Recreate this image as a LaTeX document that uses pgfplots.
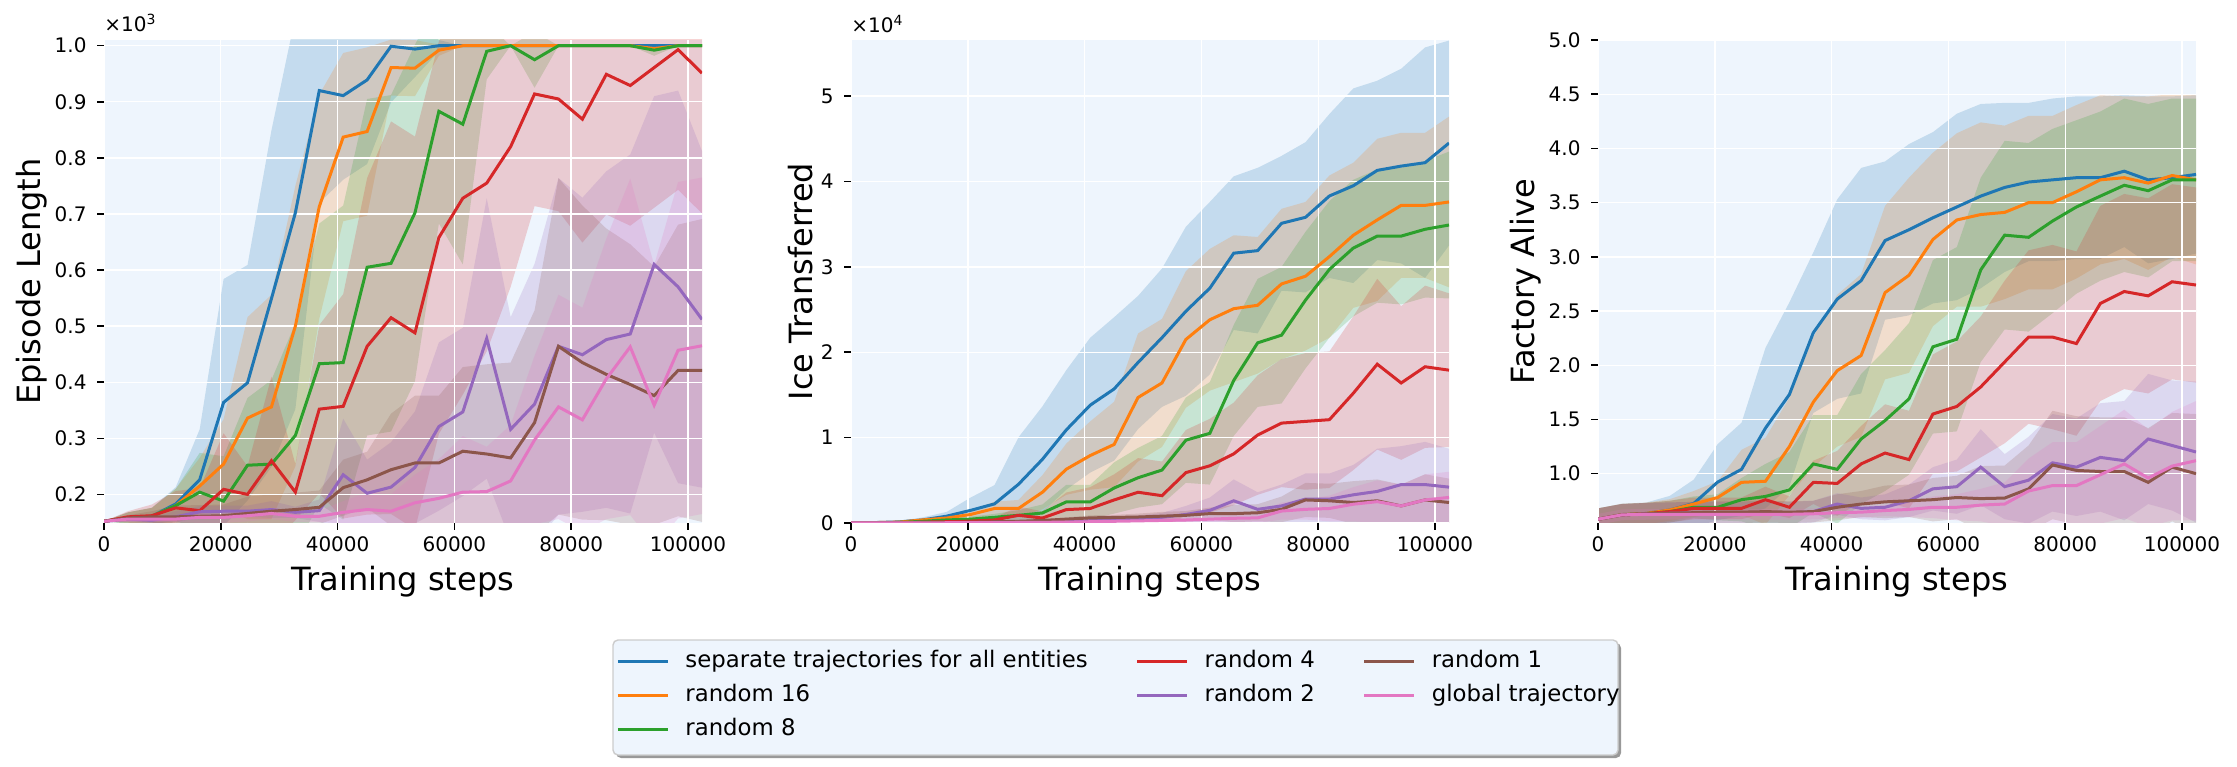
\documentclass[border=0pt]{standalone}
\usepackage{fontspec}
\setmainfont{DejaVu Sans}
\usepackage{pgfplots}
\usepackage{pgfplotstable}
\pgfplotsset{compat=1.18}
\usepgfplotslibrary{fillbetween}

\definecolor{cB}{RGB}{31,119,180}
\definecolor{cO}{RGB}{255,127,14}
\definecolor{cG}{RGB}{44,160,44}
\definecolor{cR}{RGB}{214,39,40}
\definecolor{cP}{RGB}{148,103,189}
\definecolor{cN}{RGB}{140,86,75}
\definecolor{cK}{RGB}{227,119,194}
\definecolor{bgc}{RGB}{238,245,253}

\pgfplotsset{
  layers/mylayers/.define layer set={axis background,pre main,axis grid,axis ticks,axis lines,axis tick labels,main,axis descriptions,axis foreground}{
    grid style={/pgfplots/on layer=axis grid},
    tick style={/pgfplots/on layer=axis ticks},
    axis line style={/pgfplots/on layer=axis lines},
    label style={/pgfplots/on layer=axis descriptions},
    legend style={/pgfplots/on layer=axis descriptions},
    title style={/pgfplots/on layer=axis descriptions},
    colorbar style={/pgfplots/on layer=axis descriptions},
    ticklabel style={/pgfplots/on layer=axis tick labels},
    axis background@ style={/pgfplots/on layer=axis background},
    3d box foreground style={/pgfplots/on layer=axis foreground},
  },
  /pgf/number format/assume math mode=true,
  panel/.style={
    set layers=mylayers,
    scale only axis, width=299pt, height=241.5pt,
    anchor=south west,
    xmin=0, xmax=102400,
    axis background/.style={fill=bgc},
    axis line style={draw=none},
    tick align=outside, major tick length=3.4pt,
    tick style={black, line width=0.8pt},
    xtick pos=left, ytick pos=left,
    grid=major, grid style={white, line width=0.7pt},
    xtick={0,20000,40000,60000,80000,100000},
    scaled x ticks=false, scaled y ticks=false,
    xticklabel style={/pgf/number format/fixed, /pgf/number format/1000 sep={}},
    yticklabel style={xshift=-1.8pt},
    ticklabel style={font=\fontsize{10}{12}\selectfont},
    label style={font=\fontsize{16}{19}\selectfont},
    ylabel shift=-3pt,
    xlabel={Training steps},
  },
}

\newcommand{\bandplot}[3]{%
  \addplot[draw=none, name path=#3h, forget plot] table[x=x,y=h]{#1};
  \addplot[draw=none, name path=#3l, forget plot] table[x=x,y=l]{#1};
  \addplot[fill=#2, fill opacity=0.2, draw=none, forget plot] fill between[of=#3h and #3l];
}
\newcommand{\meanplot}[2]{\addplot[#2, line width=1.5pt, forget plot] table[x=x,y=m]{#1};}

% ---------------- Panel A: Episode Length (x10^3)
\pgfplotstableread{
x m l h
0 .152 .152 .152
4096 .158 .148 .168
8192 .161 .146 .176
12288 .183 .153 .213
16384 .226 .136 .316
20480 .364 .144 .584
24576 .399 .189 .609
28672 .549 .249 .849
32768 .702 .352 1.052
36864 .920 .72 1.12
40960 .911 .761 1.061
45056 .939 .789 1.089
49152 .999 .899 1.099
53248 .994 .944 1.044
57344 1.0 .99 1.01
61440 1.0 1.0 1.0
65536 1.0 1.0 1.0
69632 1.0 1.0 1.0
73728 1.0 1.0 1.0
77824 1.0 1.0 1.0
81920 1.0 1.0 1.0
86016 1.0 1.0 1.0
90112 1.0 1.0 1.0
94208 1.0 1.0 1.0
98304 1.0 1.0 1.0
102400 1.0 1.0 1.0
}\Ab
\pgfplotstableread{
x m l h
0 .152 .152 .152
4096 .158 .148 .168
8192 .161 .146 .176
12288 .18 .15 .21
16384 .215 .165 .265
20480 .254 .174 .334
24576 .336 .156 .516
28672 .356 .156 .556
32768 .50 .25 .75
36864 .713 .513 .913
40960 .837 .687 .987
45056 .847 .697 .997
49152 .961 .911 1.011
53248 .96 .91 1.01
57344 .992 .982 1.002
61440 1.0 1.0 1.0
65536 1.0 1.0 1.0
69632 1.0 1.0 1.0
73728 1.0 1.0 1.0
77824 1.0 1.0 1.0
81920 1.0 1.0 1.0
86016 1.0 1.0 1.0
90112 1.0 1.0 1.0
94208 .995 .99 1.0
98304 1.0 1.0 1.0
102400 1.0 1.0 1.0
}\Ao
\pgfplotstableread{
x m l h
0 .152 .152 .152
4096 .158 .148 .168
8192 .161 .146 .176
12288 .18 .15 .21
16384 .204 .134 .274
20480 .188 .108 .268
24576 .252 .132 .372
28672 .254 .104 .404
32768 .305 .105 .505
36864 .433 .183 .683
40960 .435 .155 .715
45056 .605 .305 .905
49152 .612 .312 .912
53248 .702 .402 1.002
57344 .883 .683 1.083
61440 .860 .61 1.11
65536 .99 .94 1.04
69632 1.0 1.0 1.0
73728 .975 .925 1.025
77824 1.0 1.0 1.0
81920 1.0 1.0 1.0
86016 1.0 1.0 1.0
90112 1.0 1.0 1.0
94208 .992 .982 1.002
98304 1.0 1.0 1.0
102400 1.0 1.0 1.0
}\Ag
\pgfplotstableread{
x m l h
0 .152 .152 .152
4096 .16 .15 .17
8192 .162 .142 .182
12288 .176 .146 .206
16384 .171 .131 .211
20480 .209 .109 .309
24576 .20 .15 .25
28672 .26 .11 .41
32768 .204 .154 .254
36864 .352 .202 .502
40960 .357 .157 .557
45056 .464 .164 .764
49152 .515 .165 .865
53248 .488 .138 .838
57344 .658 .308 1.008
61440 .728 .378 1.078
65536 .755 .455 1.055
69632 .82 .57 1.07
73728 .914 .714 1.114
77824 .905 .705 1.105
81920 .869 .649 1.089
86016 .949 .699 1.199
90112 .929 .679 1.179
94208 .961 .711 1.211
98304 .993 .743 1.243
102400 .951 .701 1.201
}\Ar
\pgfplotstableread{
x m l h
0 .152 .152 .152
4096 .156 .151 .161
8192 .154 .149 .159
12288 .16 .15 .17
16384 .169 .159 .179
20480 .17 .16 .18
24576 .17 .16 .18
28672 .173 .158 .188
32768 .168 .158 .178
36864 .171 .151 .191
40960 .235 .135 .335
45056 .202 .142 .262
49152 .213 .133 .293
53248 .248 .148 .348
57344 .321 .171 .471
61440 .347 .197 .497
65536 .478 .228 .728
69632 .316 .116 .516
73728 .361 .111 .611
77824 .464 .164 .764
81920 .449 .169 .729
86016 .476 .176 .776
90112 .486 .166 .806
94208 .61 .31 .91
98304 .57 .22 .92
102400 .512 .212 .812
}\Ap
\pgfplotstableread{
x m l h
0 .152 .152 .152
4096 .158 .153 .163
8192 .16 .15 .17
12288 .16 .14 .18
16384 .161 .141 .181
20480 .162 .142 .182
24576 .166 .136 .196
28672 .17 .14 .20
32768 .173 .143 .203
36864 .177 .147 .207
40960 .212 .162 .262
45056 .226 .176 .276
49152 .244 .144 .344
53248 .256 .136 .376
57344 .256 .136 .376
61440 .277 .127 .427
65536 .272 .112 .432
69632 .265 .095 .435
73728 .328 .128 .528
77824 .464 .164 .764
81920 .435 .155 .715
86016 .414 .154 .674
90112 .396 .146 .646
94208 .376 .146 .606
98304 .421 .161 .681
102400 .421 .151 .691
}\An
\pgfplotstableread{
x m l h
0 .152 .152 .152
4096 .156 .151 .161
8192 .156 .151 .161
12288 .156 .151 .161
16384 .159 .149 .169
20480 .159 .149 .169
24576 .162 .152 .172
28672 .166 .156 .176
32768 .161 .151 .171
36864 .161 .151 .171
40960 .168 .148 .188
45056 .173 .143 .203
49152 .17 .14 .20
53248 .185 .135 .235
57344 .193 .123 .263
61440 .204 .104 .304
65536 .205 .125 .285
69632 .224 .124 .324
73728 .297 .147 .447
77824 .356 .156 .556
81920 .333 .133 .533
86016 .406 .156 .656
90112 .463 .163 .763
94208 .359 .109 .609
98304 .457 .157 .757
102400 .465 .165 .765
}\Ak

% ---------------- Panel B: Ice Transferred (x10^4)
\pgfplotstableread{
x m l h
0 0 0 0
4096 .005 0 .01
8192 .013 .003 .023
12288 .036 .006 .066
16384 .08 .03 .13
20480 .148 0 .298
24576 .224 .004 .444
28672 .453 -.097 1.003
32768 .745 .125 1.365
36864 1.09 .39 1.79
40960 1.38 .59 2.17
45056 1.57 .73 2.41
49152 1.88 1.10 2.66
53248 2.17 1.36 2.98
57344 2.48 1.49 3.47
61440 2.75 1.74 3.76
65536 3.16 2.26 4.06
69632 3.19 2.22 4.16
73728 3.51 2.72 4.30
77824 3.58 2.70 4.46
81920 3.83 2.87 4.79
86016 3.95 2.81 5.09
90112 4.13 3.08 5.18
94208 4.18 3.04 5.32
98304 4.22 2.87 5.57
102400 4.45 3.25 5.65
}\Bb
\pgfplotstableread{
x m l h
0 0 0 0
4096 .005 .002 .008
8192 .01 .005 .015
12288 .036 .016 .056
16384 .058 .028 .088
20480 .10 .05 .15
24576 .17 .09 .25
28672 .17 .07 .27
32768 .36 .16 .56
36864 .63 .33 .93
40960 .79 .39 1.19
45056 .92 .42 1.42
49152 1.47 .72 2.22
53248 1.64 .89 2.39
57344 2.15 1.35 2.95
61440 2.38 1.55 3.21
65536 2.51 1.65 3.37
69632 2.55 1.75 3.35
73728 2.80 1.92 3.68
77824 2.89 2.02 3.76
81920 3.12 2.17 4.07
86016 3.37 2.52 4.22
90112 3.55 2.60 4.50
94208 3.72 2.87 4.57
98304 3.72 2.87 4.57
102400 3.76 2.76 4.76
}\Bo
\pgfplotstableread{
x m l h
0 0 0 0
4096 .003 .001 .005
8192 .006 .002 .01
12288 .02 .01 .03
16384 .036 .016 .056
20480 .045 .015 .075
24576 .067 .027 .107
28672 .09 .03 .15
32768 .117 .017 .217
36864 .247 .047 .447
40960 .247 .047 .447
45056 .41 .11 .71
49152 .53 .18 .88
53248 .62 .22 1.02
57344 .97 .47 1.47
61440 1.05 .45 1.65
65536 1.67 1.02 2.32
69632 2.11 1.36 2.86
73728 2.20 1.40 3.00
77824 2.61 1.81 3.41
81920 2.97 2.17 3.77
86016 3.22 2.42 4.02
90112 3.36 2.58 4.14
94208 3.36 2.56 4.16
98304 3.44 2.64 4.24
102400 3.49 2.63 4.35
}\Bg
\pgfplotstableread{
x m l h
0 0 0 0
4096 .002 0 .004
8192 .005 .001 .009
12288 .01 .002 .018
16384 .015 .005 .025
20480 .022 .002 .042
24576 .036 .006 .066
28672 .09 -.01 .19
32768 .058 -.022 .138
36864 .157 -.043 .357
40960 .17 -.08 .42
45056 .27 -.03 .57
49152 .36 -.04 .76
53248 .32 -.08 .72
57344 .59 .09 1.09
61440 .67 .12 1.22
65536 .81 .21 1.41
69632 1.03 .33 1.73
73728 1.17 .42 1.92
77824 1.19 .39 1.99
81920 1.21 .41 2.01
86016 1.52 .62 2.42
90112 1.86 .86 2.86
94208 1.64 .74 2.54
98304 1.83 .88 2.78
102400 1.79 .89 2.69
}\Br
\pgfplotstableread{
x m l h
0 0 0 0
4096 0 0 0
8192 .002 .002 .002
12288 .003 .001 .005
16384 .004 .002 .006
20480 .005 .002 .008
24576 .006 .003 .009
28672 .007 .003 .011
32768 .009 .004 .014
36864 .013 .003 .023
40960 .027 .007 .047
45056 .036 .006 .066
49152 .05 .01 .09
53248 .067 .017 .117
57344 .10 0 .20
61440 .148 -.002 .298
65536 .26 .01 .51
69632 .16 -.04 .36
73728 .20 -.05 .45
77824 .28 -.02 .58
81920 .28 -.02 .58
86016 .33 -.02 .68
90112 .37 -.13 .87
94208 .45 0 .90
98304 .45 -.05 .95
102400 .42 -.03 .87
}\Bp
\pgfplotstableread{
x m l h
0 0 0 0
4096 .001 .001 .001
8192 .002 .001 .003
12288 .003 .001 .005
16384 .005 .002 .008
20480 .01 .005 .015
24576 .015 .007 .023
28672 .02 .01 .03
32768 .03 .015 .045
36864 .045 .025 .065
40960 .06 .03 .09
45056 .065 .035 .095
49152 .07 .03 .11
53248 .08 .03 .13
57344 .09 .04 .14
61440 .11 .04 .18
65536 .11 .01 .21
69632 .12 .02 .22
73728 .16 .01 .31
77824 .27 .07 .47
81920 .26 .06 .46
86016 .24 -.01 .49
90112 .26 .01 .51
94208 .20 -.05 .45
98304 .27 -.03 .57
102400 .24 -.04 .52
}\Bn
\pgfplotstableread{
x m l h
0 0 0 0
4096 0 0 0
8192 .001 .001 .001
12288 .002 .002 .002
16384 .003 .002 .004
20480 .004 .003 .005
24576 .005 .004 .006
28672 .006 .004 .008
32768 .008 .005 .011
36864 .01 .005 .015
40960 .015 .005 .025
45056 .02 .005 .035
49152 .025 .005 .045
53248 .03 .005 .055
57344 .035 .005 .065
61440 .045 .005 .085
65536 .055 .005 .105
69632 .06 0 .12
73728 .14 .04 .24
77824 .16 .04 .28
81920 .17 .02 .32
86016 .22 .02 .42
90112 .25 0 .5
94208 .20 -.05 .45
98304 .27 -.03 .57
102400 .30 0 .6
}\Bk

% ---------------- Panel C: Factory Alive
\pgfplotstableread{
x m l h
0 .58 .48 .68
4096 .623 .523 .723
8192 .633 .533 .733
12288 .665 .535 .795
16384 .725 .505 .945
20480 .922 .572 1.272
24576 1.04 .61 1.47
28672 1.42 .68 2.16
32768 1.73 .88 2.58
36864 2.30 1.56 3.04
40960 2.61 1.69 3.53
45056 2.78 1.74 3.82
49152 3.15 2.42 3.88
53248 3.25 2.46 4.04
57344 3.36 2.57 4.15
61440 3.46 2.60 4.32
65536 3.56 2.71 4.41
69632 3.64 2.86 4.42
73728 3.69 2.96 4.42
77824 3.71 2.96 4.46
81920 3.73 2.98 4.48
86016 3.73 2.98 4.48
90112 3.79 3.09 4.49
94208 3.71 2.94 4.48
98304 3.73 2.98 4.48
102400 3.76 3.03 4.49
}\Cb
\pgfplotstableread{
x m l h
0 .58 .48 .68
4096 .623 .523 .723
8192 .633 .533 .733
12288 .665 .565 .765
16384 .72 .60 .84
20480 .78 .63 .93
24576 .92 .62 1.22
28672 .93 .53 1.33
32768 1.25 .80 1.70
36864 1.66 1.06 2.26
40960 1.95 1.25 2.65
45056 2.09 1.34 2.84
49152 2.67 1.87 3.47
53248 2.83 1.93 3.73
57344 3.16 2.36 3.96
61440 3.34 2.54 4.14
65536 3.39 2.54 4.24
69632 3.41 2.61 4.21
73728 3.50 2.70 4.30
77824 3.50 2.70 4.30
81920 3.60 2.80 4.40
86016 3.71 2.93 4.49
90112 3.73 2.98 4.48
94208 3.68 2.88 4.48
98304 3.75 3.00 4.50
102400 3.71 2.93 4.49
}\Co
\pgfplotstableread{
x m l h
0 .58 .48 .68
4096 .62 .52 .72
8192 .63 .53 .73
12288 .65 .55 .75
16384 .69 .59 .79
20480 .69 .57 .81
24576 .76 .56 .96
28672 .79 .49 1.09
32768 .85 .50 1.20
36864 1.09 .64 1.54
40960 1.04 .54 1.54
45056 1.32 .72 1.92
49152 1.49 .84 2.14
53248 1.69 .99 2.39
57344 2.17 1.37 2.97
61440 2.24 1.39 3.09
65536 2.88 2.03 3.73
69632 3.20 2.33 4.07
73728 3.18 2.31 4.05
77824 3.33 2.48 4.18
81920 3.46 2.66 4.26
86016 3.56 2.78 4.34
90112 3.66 2.86 4.46
94208 3.61 2.81 4.41
98304 3.71 2.96 4.46
102400 3.71 2.96 4.46
}\Cg
\pgfplotstableread{
x m l h
0 .58 .48 .68
4096 .62 .52 .72
8192 .63 .53 .73
12288 .65 .55 .75
16384 .68 .58 .78
20480 .68 .58 .78
24576 .68 .58 .78
28672 .76 .64 .88
32768 .69 .59 .79
36864 .92 .72 1.12
40960 .91 .61 1.21
45056 1.09 .74 1.44
49152 1.19 .74 1.64
53248 1.13 .68 1.58
57344 1.55 1.00 2.10
61440 1.62 1.02 2.22
65536 1.80 1.15 2.45
69632 2.03 1.28 2.78
73728 2.26 1.46 3.06
77824 2.26 1.41 3.11
81920 2.20 1.35 3.05
86016 2.57 1.67 3.47
90112 2.68 1.78 3.58
94208 2.64 1.74 3.54
98304 2.77 1.87 3.67
102400 2.74 1.84 3.64
}\Cr
\pgfplotstableread{
x m l h
0 .58 .48 .68
4096 .62 .52 .72
8192 .63 .53 .73
12288 .635 .535 .735
16384 .64 .54 .74
20480 .64 .54 .74
24576 .64 .54 .74
28672 .645 .545 .745
32768 .64 .54 .74
36864 .65 .55 .75
40960 .72 .62 .82
45056 .68 .58 .78
49152 .69 .57 .81
53248 .75 .60 .90
57344 .86 .66 1.06
61440 .88 .63 1.13
65536 1.06 .71 1.41
69632 .88 .58 1.18
73728 .94 .54 1.34
77824 1.10 .65 1.55
81920 1.06 .61 1.51
86016 1.15 .65 1.65
90112 1.12 .57 1.67
94208 1.32 .72 1.92
98304 1.26 .66 1.86
102400 1.20 .55 1.85
}\Cp
\pgfplotstableread{
x m l h
0 .58 .48 .68
4096 .62 .52 .72
8192 .63 .53 .73
12288 .635 .535 .735
16384 .64 .54 .74
20480 .645 .545 .745
24576 .645 .545 .745
28672 .65 .55 .75
32768 .645 .545 .745
36864 .65 .55 .75
40960 .69 .57 .81
45056 .72 .60 .84
49152 .74 .59 .89
53248 .75 .60 .90
57344 .76 .56 .96
61440 .78 .58 .98
65536 .77 .47 1.07
69632 .775 .475 1.075
73728 .86 .46 1.26
77824 1.08 .58 1.58
81920 1.03 .53 1.53
86016 1.02 .52 1.52
90112 1.02 .52 1.52
94208 .92 .42 1.42
98304 1.06 .56 1.56
102400 1.00 .45 1.55
}\Cn
\pgfplotstableread{
x m l h
0 .58 .53 .63
4096 .62 .57 .67
8192 .625 .575 .675
12288 .625 .575 .675
16384 .625 .575 .675
20480 .625 .575 .675
24576 .625 .575 .675
28672 .625 .575 .675
32768 .625 .575 .675
36864 .63 .58 .68
40960 .64 .59 .69
45056 .645 .595 .695
49152 .66 .61 .71
53248 .67 .60 .74
57344 .69 .59 .79
61440 .69 .57 .81
65536 .71 .56 .86
69632 .72 .52 .92
73728 .84 .54 1.14
77824 .89 .49 1.29
81920 .89 .49 1.29
86016 .99 .54 1.44
90112 1.09 .59 1.59
94208 .96 .51 1.41
98304 1.07 .57 1.57
102400 1.12 .57 1.67
}\Ck

\begin{document}
\begin{tikzpicture}

% legend frame with shadow (drawn first, under the legend entries)
\fill[black!40, rounded corners=2.5pt] (308pt,4pt) rectangle (810.5pt,61.5pt);
\filldraw[fill=bgc, draw=black!20, line width=0.7pt, rounded corners=2.5pt] (306.5pt,5.5pt) rectangle (809pt,63pt);

% ---- Panel A
\begin{axis}[panel, name=A, at={(52pt,121.5pt)},
  ymin=0.149, ymax=1.0102,
  ytick={0.2,0.3,0.4,0.5,0.6,0.7,0.8,0.9,1.0},
  yticklabel style={/pgf/number format/fixed, /pgf/number format/fixed zerofill, /pgf/number format/precision=1},
  ylabel={Episode Length}]
\bandplot{\Ab}{cB}{b}
\bandplot{\Ao}{cO}{o}
\bandplot{\Ag}{cG}{g}
\bandplot{\Ar}{cR}{r}
\bandplot{\Ap}{cP}{p}
\bandplot{\An}{cN}{n}
\bandplot{\Ak}{cK}{k}
\meanplot{\Ab}{cB}
\meanplot{\Ao}{cO}
\meanplot{\Ag}{cG}
\meanplot{\Ar}{cR}
\meanplot{\Ap}{cP}
\meanplot{\An}{cN}
\meanplot{\Ak}{cK}
\end{axis}

% ---- Panel B
\begin{axis}[panel, name=B, at={(425.5pt,121.5pt)},
  ymin=0, ymax=5.657,
  ytick={0,1,2,3,4,5},
  yticklabel style={/pgf/number format/fixed, /pgf/number format/precision=0},
  ylabel={Ice Transferred},
  legend columns=3,
  legend cell align=left,
  legend image code/.code={\draw[#1] (0pt,0pt) -- (25pt,0pt);},
  legend style={at={(rel axis cs:-0.403,-0.2422)}, anchor=north west,
    fill=none, draw=none,
    font=\fontsize{11.4}{13.7}\selectfont,
    inner xsep=3pt, inner ysep=3pt, row sep=2pt,
    nodes={inner xsep=4pt, inner ysep=2pt, text height=8.5pt, text depth=2.5pt},
    /tikz/every odd column/.append style={column sep=4pt},
    /tikz/every even column/.append style={column sep=20pt}}]
\bandplot{\Bb}{cB}{b}
\bandplot{\Bo}{cO}{o}
\bandplot{\Bg}{cG}{g}
\bandplot{\Br}{cR}{r}
\bandplot{\Bp}{cP}{p}
\bandplot{\Bn}{cN}{n}
\bandplot{\Bk}{cK}{k}
\meanplot{\Bb}{cB}
\meanplot{\Bo}{cO}
\meanplot{\Bg}{cG}
\meanplot{\Br}{cR}
\meanplot{\Bp}{cP}
\meanplot{\Bn}{cN}
\meanplot{\Bk}{cK}
\addlegendimage{cB, line width=1.5pt}\addlegendentry{separate trajectories for all entities}
\addlegendimage{cR, line width=1.5pt}\addlegendentry{random 4}
\addlegendimage{cN, line width=1.5pt}\addlegendentry{random 1}
\addlegendimage{cO, line width=1.5pt}\addlegendentry{random 16}
\addlegendimage{cP, line width=1.5pt}\addlegendentry{random 2}
\addlegendimage{cK, line width=1.5pt}\addlegendentry{global trajectory}
\addlegendimage{cG, line width=1.5pt}\addlegendentry{random 8}
\addlegendimage{empty legend}\addlegendentry{}
\addlegendimage{empty legend}\addlegendentry{}
\end{axis}

% ---- Panel C
\begin{axis}[panel, name=C, at={(799pt,121.5pt)},
  ymin=0.545, ymax=5.0,
  ytick={1.0,1.5,2.0,2.5,3.0,3.5,4.0,4.5,5.0},
  yticklabel style={/pgf/number format/fixed, /pgf/number format/fixed zerofill, /pgf/number format/precision=1},
  ylabel={Factory Alive}]
\bandplot{\Cb}{cB}{b}
\bandplot{\Co}{cO}{o}
\bandplot{\Cg}{cG}{g}
\bandplot{\Cr}{cR}{r}
\bandplot{\Cp}{cP}{p}
\bandplot{\Cn}{cN}{n}
\bandplot{\Ck}{cK}{k}
\meanplot{\Cb}{cB}
\meanplot{\Co}{cO}
\meanplot{\Cg}{cG}
\meanplot{\Cr}{cR}
\meanplot{\Cp}{cP}
\meanplot{\Cn}{cN}
\meanplot{\Ck}{cK}
\end{axis}

% offset (multiplier) labels
\node[anchor=base west, inner sep=0pt, font=\fontsize{10}{12}\selectfont] at ([yshift=4pt]A.north west) {×10\textsuperscript{3}};
\node[anchor=base west, inner sep=0pt, font=\fontsize{10}{12}\selectfont] at ([yshift=3.5pt]B.north west) {×10\textsuperscript{4}};

\pgfresetboundingbox
\path[use as bounding box] (0,0) rectangle (1118.5pt,383pt);
\end{tikzpicture}
\end{document}
